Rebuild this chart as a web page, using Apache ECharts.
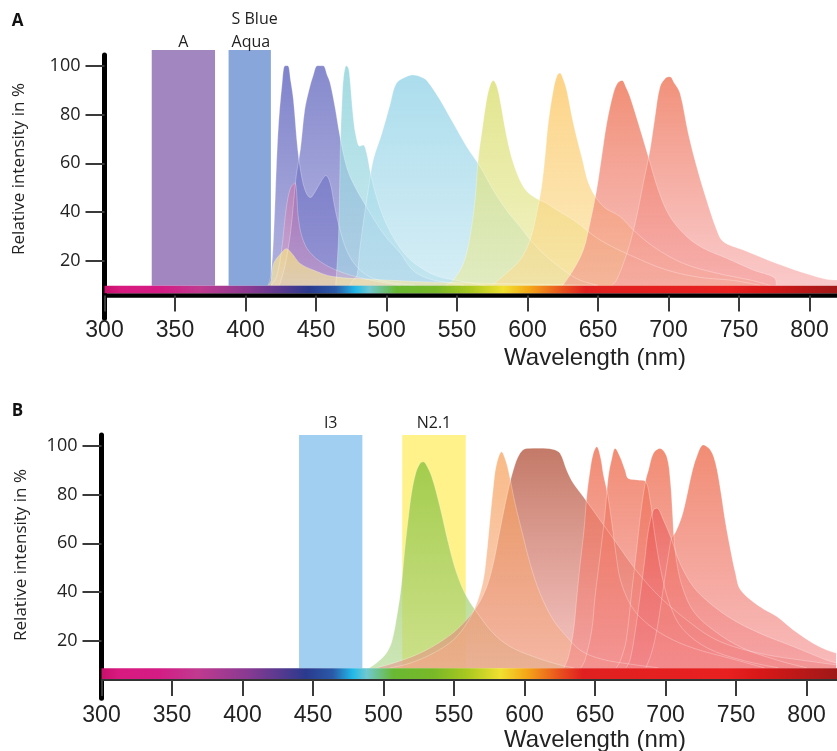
<!DOCTYPE html>
<html><head><meta charset="utf-8">
<script src="https://cdn.jsdelivr.net/npm/echarts@6/dist/echarts.min.js"></script>
<style>html,body{margin:0;padding:0;background:#fff}#c{width:837px;height:751px}</style>
</head><body><div id="c"></div>
<script>
// ---------- axis values ----------
const xTicks = [300, 350, 400, 450, 500, 550, 600, 650, 700, 750, 800];
const yTicks = [20, 40, 60, 80, 100];
const yMin = -3.5, yMax = 104.4;
const xMinA = 300, xMaxA = 819.5;
const xMinB = 300, xMaxB = 821.6;

// ---------- spectrum colour bar ----------
const spectrumNm = [300, 312, 340, 368, 403, 425, 445, 464, 478, 488, 507, 535, 559, 583, 601, 625, 641, 743, 767, 790, 821];
const spectrumColors = ['#c8106a','#d81a80','#d41c84','#c03a90','#8a3a92','#5a3a90','#2a3a8e','#2a5aa8','#22b8e8','#70c8d0','#6ab832','#78b828','#a8c820','#f0e030','#f4a818','#e8501e','#e02020','#e82020','#d81818','#c01818','#a01818'];
const barA = [6.76, 9.87];
const barB = [4.42, 8.8];

// ---------- filters ----------
const filterNamesA = ['A', 'S Blue\nAqua'];
const filterFromA = [333.5, 388];
const filterToA = [378.4, 418];
const filterTopA = 106.5;
const filterNamesB = ['I3', 'N2.1'];
const filterFromB = [440.1, 513.3];
const filterToB = [485.0, 558.3];
const filterTopB = 104.4;

// ---------- panel A spectra [nm, value] ----------
const a430 = [[416,10],[418,14],[420,31],[423,72],[426,93],[428,100],[430,100],[432,94],[434,86],[437,66],[440,54],[443,48],[446,46],[449,48],[453,52],[457,55],[460,52],[463,43],[466,35],[472,24],[480,17],[490,13],[505,11],[520,10]];
const a453 = [[424,10],[428,18],[432,32],[436,55],[439,66],[442,82],[445,90],[448,96],[451,100],[455,100],[458,96],[460,93],[463.5,83],[467,71],[472,58],[478,50],[486,42],[498,31],[510,23],[519,16],[531,12.5],[545,11],[555,10]];
const a471 = [[464,10],[466,30],[467.5,72],[468.5,86],[469.5,95],[471.5,100],[473,99],[474,95],[476.4,79],[478.4,71],[481,67],[483.5,67.5],[486,64],[488.3,57],[493,46],[500,35],[510,25],[520,19],[535,14],[550,12],[570,10]];
const a519 = [[474,10],[476,12],[479,14],[481,24.5],[483.5,35.5],[487,49],[490.6,61.4],[496.6,72],[502.5,84],[507,92.8],[514,95.5],[519,96.2],[524,95.5],[528.5,94],[538,86],[547.4,76.4],[556.9,66.8],[566.4,58.6],[575.7,49],[585,40.9],[594.7,34],[604.1,27.2],[613.6,21.8],[625.4,16.3],[637,12.2],[650,10]];
const a575 = [[542,10],[547.4,12.2],[554.5,19],[559.2,30],[562.8,45],[565,61.4],[567.5,72.3],[571,86],[573.5,92],[575.7,94],[578,92],[580.5,86],[585.2,71],[590,60],[597,50.4],[604,46.4],[613.6,43.6],[620.7,40.9],[632.5,36.8],[651.4,28.6],[675,21.8],[698.7,16.3],[722,13.3],[746,12],[765,10]];
const a623 = [[575,10],[585,15],[594.7,20.4],[601.8,28.6],[606.5,39.5],[610,50.4],[612.4,62.7],[614.7,76.4],[618.3,90],[621,96],[623,97],[625,95],[627.8,90],[632.5,76.4],[638.4,62.7],[644.3,50.4],[653.8,42.3],[665.6,38.2],[675,32.7],[689.2,25.9],[710.5,19],[734.2,15],[757.8,12.2],[772,10]];
const a667 = [[625,10],[632.5,16.3],[639.6,24.5],[644.3,35.5],[649,49],[652.6,62.7],[656.2,76.4],[660.9,88.7],[664,93],[667,94],[670,91],[672.7,87.3],[678.6,76.4],[685.7,62.7],[692.8,49],[701,38.2],[712.9,30],[724.7,25.2],[741.3,21.1],[760,16.3],[775.5,12.9],[776.5,10]];
const a701 = [[660,10],[663,12],[668,19],[672.7,27.2],[677.4,38.2],[682.1,51.8],[686.9,65.5],[690.4,79],[694,91.4],[698,95],[701,95.5],[704,93],[708.2,88.7],[714,72.3],[720,58.6],[727,45],[734.2,32.7],[738.9,27.9],[753,24.5],[776.7,19],[800.4,14.3],[812,12.5],[819.5,12.2]];
const a435 = [[418,10],[422,13.5],[425.6,24.5],[429,42],[432,50],[435,52],[437.4,38],[440,30],[445,24],[455,19],[470,15],[490,12],[510,10]];
const a429 = [[416,10],[418,12],[420,19],[425,23],[429,25],[433,23],[438.6,19],[448,16.3],[462,13.6],[490,12.5],[524,11.5],[560,11],[600,10.5],[650,10]];

// ---------- panel B spectra [nm, value] ----------
const b528 = [[490,9],[495,11],[502,15],[506,20],[510,32],[512.5,42],[515,57],[517.5,70],[520,81],[523,89],[526,92.8],[528.2,93.4],[530,92.5],[534.2,87.3],[540,75],[546,60],[551.9,47.7],[559,38.1],[568.4,30],[577.9,23.1],[589.7,17.7],[606.2,13.6],[626,10],[635,9]];
const b584 = [[505,9],[518.8,10.9],[535.3,15],[549.5,20.4],[559,27.2],[566.1,35.4],[570.8,45],[573.2,55.9],[575.5,69.6],[577.9,83.2],[580,92],[583.8,97.5],[586,95],[588.5,90],[593.3,76.4],[599.1,62.7],[603.9,51.8],[611,39.5],[620.4,28.6],[629.9,21.8],[640,16],[655,12.5],[675,10.5],[695,9]];
const b611 = [[495,9],[507,10.9],[525.9,15],[542.4,20.4],[554.3,25.9],[566.1,34],[573.2,42.2],[577.9,51.8],[582.6,65.5],[587.4,79.1],[592,90],[596.8,96.9],[601.5,98.9],[611,99],[620.4,98.5],[625.2,96.9],[629.9,90],[634.6,84.6],[641.7,79.1],[653.5,69.6],[665.4,60],[677.2,50.4],[689,42.2],[700.9,35.4],[715,28.6],[731.6,21.8],[748.1,17.7],[771.8,14.3],[795.4,12.2],[821,10.2]];
const b651 = [[628,9],[631.2,13.6],[634.8,24.5],[637.1,38.1],[639.5,51.8],[642.2,65.5],[644.1,79.1],[646.5,90],[648.8,96.9],[651.2,99.6],[654,95],[656,88],[659,80],[662,68],[665,55],[668,45],[675,35],[684,28.6],[700,22],[720,17],[745,13],[770,9]];
const b664 = [[640,9],[642.9,12.2],[647.7,24.5],[650,38.1],[653.5,54.5],[657.1,72.3],[659.4,87.3],[662,95],[664.2,98.9],[667.7,95.5],[671.3,90],[673.6,86.6],[680,86],[685.5,85.5],[689,78],[692,65],[697,48],[703,35],[712,25],[730,17],[755,12],[780,9]];
const b696 = [[665,9],[668,12],[672,20],[676,40],[680,60],[683,75],[686,86],[687.9,90],[691.4,96.9],[696,98.9],[700.9,95.5],[703.5,85],[705,72],[706,62],[708,52],[712,42],[720,32],[735,24],[755,17],[780,12],[800,9]];
const b694 = [[672,9],[674.8,12.2],[678,22],[681.9,38.1],[685,52],[687.9,65.5],[691.4,73.7],[693.8,74.4],[698.5,69.6],[704,62],[710.3,51.8],[719.7,42.2],[731.6,35.4],[748.1,28.6],[767,23.1],[790.6,17.7],[814,12.2],[821,11]];
const b727 = [[686,9],[690,15],[694,25],[698,40],[702,55],[704.4,62.5],[706.7,64.1],[711.5,70.9],[715,79.1],[718.6,88.7],[722.1,95.5],[726.8,100.3],[731.9,98.2],[735.5,92.8],[739,81.9],[742.6,68.2],[746.1,57.3],[749.6,47.7],[753.2,40.9],[767,34],[778.9,30],[790.6,24.5],[804.8,19],[814.3,16.3],[821,15]];

// ---------- build ----------
function grad(top, bottom) {
  return {type:'linear', x:0, y:0, x2:0, y2:1, colorStops:[{offset:0,color:top},{offset:1,color:bottom}]};
}
function area(data, idx, top, bottom, origin, z) {
  return {type:'line', xAxisIndex:idx, yAxisIndex:idx, data:data, smooth:0.35,
    showSymbol:false, symbol:'none', silent:true, z:z,
    lineStyle:{width:0.8, color:'rgba(255,255,255,0.35)'},
    areaStyle:{origin:origin, opacity:1, color:grad(top, bottom)}};
}
function specGradient(x0, x1) {
  return {type:'linear', x:0, y:0, x2:1, y2:0,
    colorStops: spectrumNm.map((nm, i) => ({offset: Math.min(1, Math.max(0, (nm - x0) / (x1 - x0))), color: spectrumColors[i]}))};
}
function barSeries(idx, x0, x1, bar) {
  return {type:'custom', xAxisIndex:idx, yAxisIndex:idx, silent:true, z:5, clip:false,
    data:[[x0, x1, bar[0], bar[1]]],
    renderItem:function(params, api){
      const p0 = api.coord([api.value(0), api.value(3)]);
      const p1 = api.coord([api.value(1), api.value(2)]);
      return {type:'rect', shape:{x:p0[0], y:p0[1], width:p1[0]-p0[0], height:p1[1]-p0[1]},
        style:{fill:specGradient(api.value(0), api.value(1))}};
    }};
}
function filterSeries(idx, names, from, to, bottom, top, colors, gap) {
  const data = from.map((f, i) => [f, to[i], bottom, top]);
  return {type:'custom', xAxisIndex:idx, yAxisIndex:idx, silent:true, z:1, clip:false,
    data:data,
    renderItem:function(params, api){
      const i = params.dataIndex;
      const p0 = api.coord([api.value(0), api.value(3)]);
      const p1 = api.coord([api.value(1), api.value(2)]);
      const lines = names[i].split('\n');
      const children = [{type:'rect', shape:{x:p0[0], y:p0[1], width:p1[0]-p0[0], height:p1[1]-p0[1]}, style:{fill:colors[i]}}];
      const multi = lines.length > 1;
      lines.forEach((t, k) => {
        children.push({type:'text', style:{text:t, x: multi ? p0[0] + 3 : (p0[0]+p1[0])/2,
          y: p0[1] - gap - (lines.length - 1 - k) * 23.7,
          align: multi ? 'left' : 'center', verticalAlign:'middle',
          font:'16px "Open Sans"', fill:'#222'}});
      });
      return {type:'group', children:children};
    }};
}

const xAxisCommon = (idx, min, max, offset, lineW, lineC) => ({
  type:'value', gridIndex:idx, min:min, max:max, offset:offset,
  splitLine:{show:false},
  axisLine:{show:true, lineStyle:{color:lineC, width:lineW}},
  axisTick:{show:true, customValues:xTicks, length:16, lineStyle:{color:'#3a3a3a', width:2}},
  axisLabel:{customValues:xTicks, margin:24, fontSize:23, fontFamily:'"Liberation Sans", Arial, sans-serif', color:'#222'}
});
const yAxisCommon = (idx) => ({
  type:'value', gridIndex:idx, min:yMin, max:yMax,
  splitLine:{show:false},
  axisLine:{show:true, lineStyle:{color:'#000', width:5}},
  axisTick:{show:true, customValues:yTicks, length:19, lineStyle:{color:'#3a3a3a', width:2}},
  axisLabel:{customValues:yTicks, margin:24, fontSize:18, fontFamily:'"Open Sans", sans-serif', color:'#222'}
});

const chart = echarts.init(document.getElementById('c'), null, {renderer:'canvas'});
const coral = 'rgba(238,115,85,0.82)', coralB = 'rgba(243,140,140,0.6)';
chart.setOption({
  animation:false,
  grid:[
    {left:104.5, right:0, top:55, height:263.3},
    {left:101.5, right:0, top:435, height:263.3}
  ],
  xAxis:[ xAxisCommon(0, xMinA, xMaxA, -22.8, 4.5, '#000'), xAxisCommon(1, xMinB, xMaxB, -18.3, 2, '#333') ],
  yAxis:[ yAxisCommon(0), yAxisCommon(1) ],
  graphic:[
    {type:'text', x:17.5, y:21, style:{text:'A', font:'bold 17px "Open Sans"', fill:'#111', textAlign:'center', textVerticalAlign:'middle'}},
    {type:'text', x:17.5, y:411.5, style:{text:'B', font:'bold 17px "Open Sans"', fill:'#111', textAlign:'center', textVerticalAlign:'middle'}},
    {type:'text', x:19, y:169, rotation:Math.PI/2, style:{text:'Relative intensity in %', font:'17px "Open Sans"', fill:'#222', textAlign:'center', textVerticalAlign:'middle'}},
    {type:'text', x:21.5, y:555, rotation:Math.PI/2, style:{text:'Relative intensity in %', font:'17px "Open Sans"', fill:'#222', textAlign:'center', textVerticalAlign:'middle'}},
    {type:'text', x:595, y:358, style:{text:'Wavelength (nm)', font:'24px "Liberation Sans"', fill:'#222', textAlign:'center', textVerticalAlign:'middle'}},
    {type:'text', x:595, y:740, style:{text:'Wavelength (nm)', font:'24px "Liberation Sans"', fill:'#222', textAlign:'center', textVerticalAlign:'middle'}}
  ],
  series:[
    filterSeries(0, filterNamesA, filterFromA, filterToA, barA[1], filterTopA, ['#a286c0','#88a6da'], 7),
    area(a430, 0, 'rgba(95,100,190,0.8)', 'rgba(125,125,200,0.6)', barA[1], 2),
    area(a453, 0, 'rgba(100,105,190,0.78)', 'rgba(130,130,205,0.6)', barA[1], 2),
    area(a471, 0, 'rgba(140,210,218,0.8)', 'rgba(175,222,232,0.65)', barA[1], 2),
    area(a519, 0, 'rgba(150,212,232,0.8)', 'rgba(190,228,240,0.65)', barA[1], 2),
    area(a575, 0, 'rgba(218,222,110,0.78)', 'rgba(232,234,160,0.62)', barA[1], 2),
    area(a623, 0, 'rgba(252,200,105,0.8)', 'rgba(250,222,150,0.62)', barA[1], 2),
    area(a667, 0, 'rgba(238,118,88,0.82)', 'rgba(243,150,145,0.6)', barA[1], 2),
    area(a701, 0, 'rgba(238,120,92,0.82)', 'rgba(246,165,165,0.6)', barA[1], 2),
    area(a435, 0, 'rgba(220,100,155,0.45)', 'rgba(235,160,195,0.35)', barA[1], 2),
    area(a429, 0, 'rgba(245,222,130,0.75)', 'rgba(246,232,165,0.65)', barA[1], 2),
    barSeries(0, xMinA, xMaxA, barA),

    filterSeries(1, filterNamesB, filterFromB, filterToB, barB[1], filterTopB, ['#a0cff2','#fff28a'], 12),
    area(b528, 1, 'rgba(140,195,60,0.8)', 'rgba(170,212,135,0.6)', barB[1], 2),
    area(b611, 1, 'rgba(180,88,65,0.8)', 'rgba(235,145,140,0.55)', barB[1], 2),
    area(b584, 1, 'rgba(247,160,88,0.72)', 'rgba(244,172,140,0.55)', barB[1], 2),
    area(b651, 1, coral, coralB, barB[1], 2),
    area(b664, 1, coral, coralB, barB[1], 2),
    area(b696, 1, coral, coralB, barB[1], 2),
    area(b694, 1, 'rgba(230,70,70,0.5)', 'rgba(240,120,130,0.4)', barB[1], 2),
    area(b727, 1, coral, coralB, barB[1], 2),
    barSeries(1, xMinB, xMaxB, barB)
  ]
});
</script></body></html>
